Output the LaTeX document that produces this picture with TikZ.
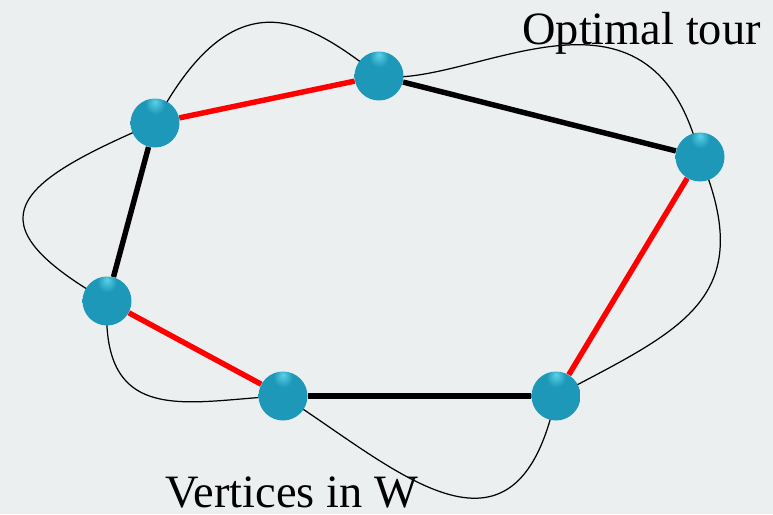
\documentclass[tikz,border=0pt]{standalone}
\usepackage{fontspec}
\setmainfont{Liberation Serif}
\usetikzlibrary{backgrounds}
\definecolor{bgcol}{RGB}{235,239,239}
\definecolor{ballhi}{RGB}{90,210,232}
\definecolor{ballmid}{RGB}{30,152,184}
\definecolor{balldark}{RGB}{14,105,132}
\pgfdeclareradialshading{tealball}{\pgfpoint{0bp}{22bp}}{color(0bp)=(ballhi); color(10bp)=(ballmid); color(44bp)=(ballmid); color(64bp)=(balldark); color(70bp)=(balldark)}

\begin{document}
\begin{tikzpicture}[x=0.02cm,y=-0.02cm,
  vertex/.style={circle,shading=tealball,minimum size=0.98cm,inner sep=0pt},
  tour/.style={black,line width=0.7pt},
  inW/.style={red,line width=3.1pt},
  notW/.style={black,line width=3.1pt},
  caption/.style={font=\fontsize{26.4}{30}\selectfont,inner sep=0pt,anchor=base west}]
\useasboundingbox (0,0) rectangle (773,514);
% vertices
\node[vertex] (vnw) at (155,123) {};
\node[vertex] (vn) at (379,76) {};
\node[vertex] (ve) at (700,157) {};
\node[vertex] (vse) at (556,396) {};
\node[vertex] (vs) at (283,396) {};
\node[vertex] (vw) at (107,301) {};
\begin{scope}[on background layer]
\fill[bgcol] (0,0) rectangle (773,514);
% optimal tour
\draw[tour] (vnw.center) .. controls +(80,-150) and +(-72,-56) .. (vn.center);
\draw[tour] (vn.center) .. controls +(91,14) and +(-50,-202) .. (ve.center);
\draw[tour] (ve.center) .. controls +(60,143) and +(124,-66) .. (vse.center);
\draw[tour] (vse.center) .. controls +(-40,190) and +(110,70) .. (vs.center);
\draw[tour] (vs.center) .. controls +(-93,4) and +(-7,129) .. (vw.center);
\draw[tour] (vw.center) .. controls +(-140,-80) and +(-140,60) .. (vnw.center);
% edges of the polygon
\draw[inW] (vnw) -- (vn);
\draw[notW] (vn) -- (ve);
\draw[inW] (ve) -- (vse);
\draw[notW] (vse) -- (vs);
\draw[inW] (vs) -- (vw);
\draw[notW] (vw) -- (vnw);
\end{scope}
\node[caption] (tourlabel) at (522,44) {Optimal tour};
\node[caption] (wlabel) at (165,507) {Vertices in W};
\end{tikzpicture}
\end{document}
